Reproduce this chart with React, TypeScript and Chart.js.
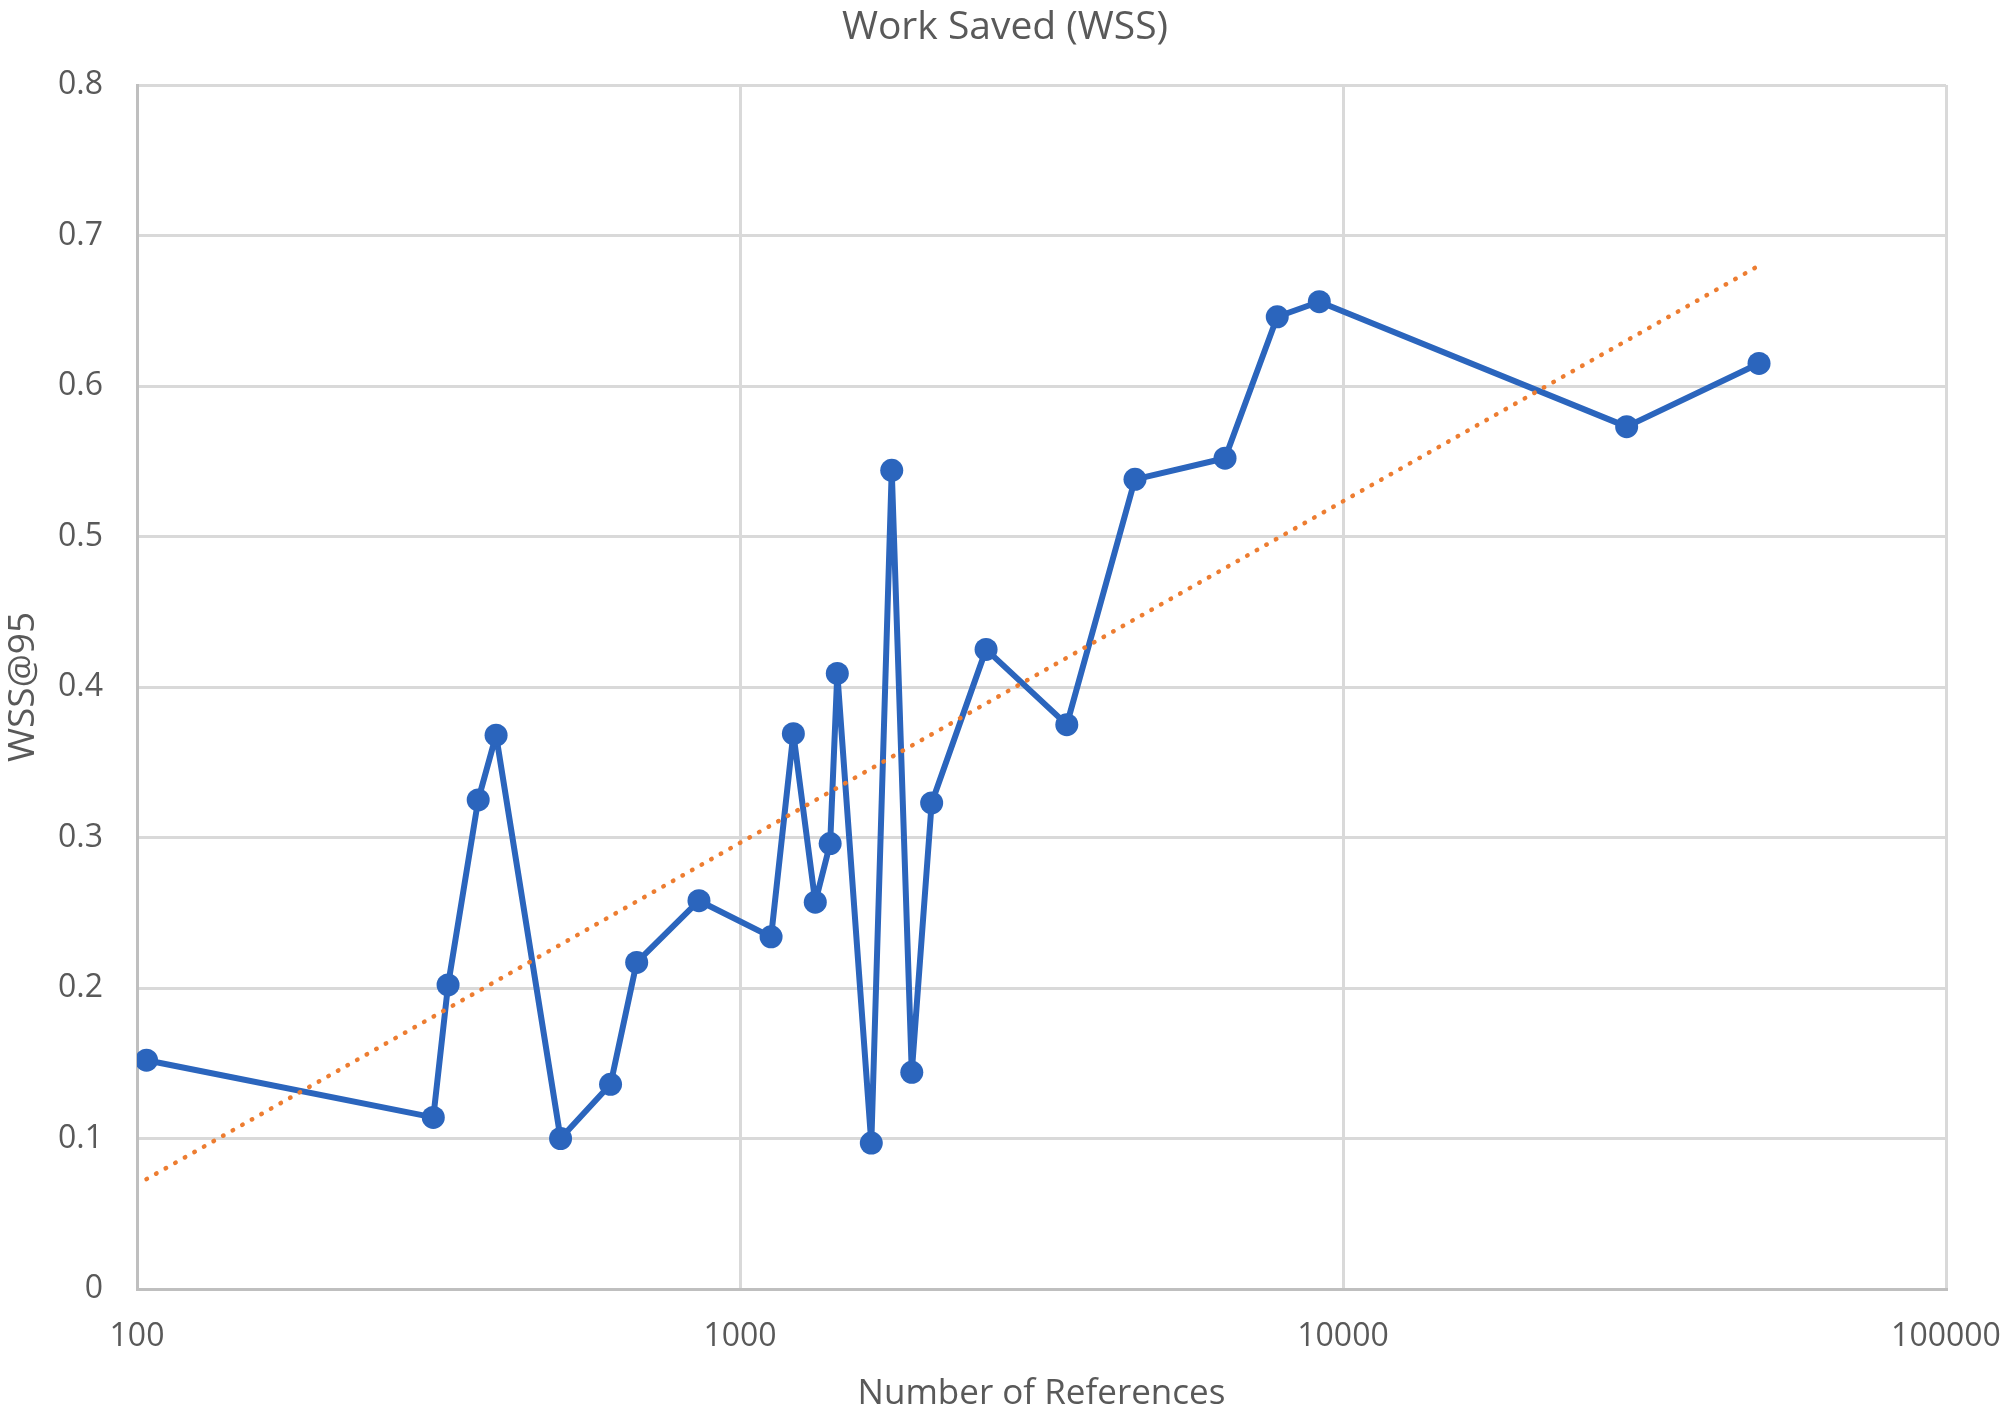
import React, { useEffect, useRef } from "react";
import { Chart, registerables } from "chart.js";

Chart.register(...registerables);

const chartTitle = "Work Saved (WSS)";
const xAxisTitle = "Number of References";
const yAxisTitle = "WSS@95";

const references = [103.7, 310, 328, 368, 394, 504, 610, 674, 855, 1126, 1226, 1333, 1411, 1450, 1651, 1785, 1927, 2079, 2559, 3483, 4519, 6373, 7780, 9135, 29540, 48970];
const wss = [0.152, 0.114, 0.202, 0.325, 0.368, 0.100, 0.136, 0.217, 0.258, 0.234, 0.369, 0.257, 0.296, 0.409, 0.097, 0.544, 0.144, 0.323, 0.425, 0.375, 0.538, 0.552, 0.646, 0.656, 0.573, 0.615];

const trendX = [103.7, 48970];
const trendY = [0.073, 0.68];

const xTicks = [100, 1000, 10000, 100000];

const W = 2010;
const H = 1415;
const FONT = "'Open Sans', 'DejaVu Sans', sans-serif";
const TEXT = "#595959";

export default function App() {
  const ref = useRef<HTMLCanvasElement | null>(null);

  useEffect(() => {
    if (!ref.current) return;
    const chart = new Chart(ref.current, {
      type: "scatter",
      data: {
        datasets: [
          {
            label: "Trend",
            data: trendX.map((x, i) => ({ x, y: trendY[i] })),
            showLine: true,
            borderColor: "#ED7D31",
            borderWidth: 4.5,
            borderDash: [0.5, 10.5],
            borderCapStyle: "round",
            pointRadius: 0,
            pointHoverRadius: 0,
            fill: false,
          } as any,
          {
            label: "WSS@95",
            data: references.map((x, i) => ({ x, y: wss[i] })),
            showLine: true,
            borderColor: "#2B65BD",
            backgroundColor: "#2B65BD",
            borderWidth: 6,
            borderJoinStyle: "round",
            pointRadius: 11.5,
            pointBorderWidth: 0,
            pointBackgroundColor: "#2B65BD",
            fill: false,
          } as any,
        ],
      },
      options: {
        responsive: false,
        animation: false,
        devicePixelRatio: 1,
        layout: { padding: { left: 0, right: 0, top: 0, bottom: 0 } },
        plugins: {
          legend: { display: false },
          tooltip: { enabled: false },
          title: {
            display: true,
            text: chartTitle,
            color: TEXT,
            font: { family: FONT, size: 39, weight: "normal" },
            padding: { top: 4, bottom: 34.2 },
          },
        },
        scales: {
          x: {
            type: "logarithmic",
            min: 100,
            max: 100000,
            afterBuildTicks: (scale: any) => {
              scale.ticks = xTicks.map((v) => ({ value: v }));
            },
            afterFit: (scale: any) => {
              scale.height = 126;
              scale.paddingRight = 64;
            },
            ticks: {
              color: TEXT,
              font: { family: FONT, size: 32 },
              padding: 29,
              maxRotation: 0,
              autoSkip: false,
              callback: (v: any) => String(v),
            },
            grid: { color: "#D9D9D9", lineWidth: 3, drawTicks: false },
            border: { color: "#BFBFBF", width: 3 },
            title: {
              display: true,
              text: xAxisTitle,
              color: TEXT,
              font: { family: FONT, size: 35 },
              padding: { top: 0, bottom: 0 },
            },
          },
          y: {
            min: 0,
            max: 0.8,
            afterFit: (scale: any) => {
              scale.width = 137;
            },
            ticks: {
              stepSize: 0.1,
              color: TEXT,
              font: { family: FONT, size: 32 },
              padding: 34,
              callback: (v: any) => String(Math.round(Number(v) * 10) / 10),
            },
            grid: { color: "#D9D9D9", lineWidth: 3, drawTicks: false },
            border: { color: "#BFBFBF", width: 3 },
            title: {
              display: true,
              text: yAxisTitle,
              color: TEXT,
              font: { family: FONT, size: 37 },
              padding: { top: 1, bottom: 0 },
            },
          },
        },
      } as any,
    });
    return () => chart.destroy();
  }, []);

  return (
    <div style={{ position: "absolute", left: 0, top: 0, width: W, height: H, background: "#fff" }}>
      <canvas ref={ref} width={W} height={H} style={{ display: "block", width: W, height: H }} />
    </div>
  );
}
